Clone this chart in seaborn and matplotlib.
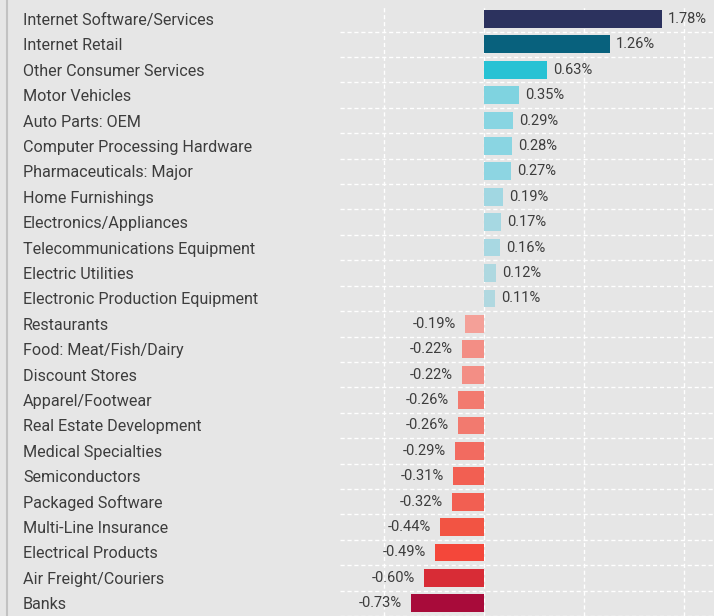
import matplotlib
matplotlib.use("Agg")
import matplotlib.pyplot as plt
import matplotlib.lines as mlines
import seaborn as sns
import pandas as pd
import numpy as np

categories = [
    "Internet Software/Services", "Internet Retail", "Other Consumer Services",
    "Motor Vehicles", "Auto Parts: OEM", "Computer Processing Hardware",
    "Pharmaceuticals: Major", "Home Furnishings", "Electronics/Appliances",
    "Telecommunications Equipment", "Electric Utilities",
    "Electronic Production Equipment", "Restaurants", "Food: Meat/Fish/Dairy",
    "Discount Stores", "Apparel/Footwear", "Real Estate Development",
    "Medical Specialties", "Semiconductors", "Packaged Software",
    "Multi-Line Insurance", "Electrical Products", "Air Freight/Couriers", "Banks",
]
returns = [
    1.78, 1.26, 0.63, 0.35, 0.29, 0.28, 0.27, 0.19, 0.17, 0.16, 0.12, 0.11,
    -0.19, -0.22, -0.22, -0.26, -0.26, -0.29, -0.31, -0.32, -0.44, -0.49,
    -0.60, -0.73,
]
bar_colors = [
    "#2c325e", "#08617d", "#28c2d4", "#7fd3e0", "#88d5e2", "#8ad5e2",
    "#8dd5e2", "#a1d7e2", "#a6d8e2", "#a8d8e2", "#aed8e0", "#b0d8e0",
    "#f4a098", "#f38e85", "#f38e85", "#f27a6f", "#f27a6f", "#f26b60",
    "#f25f52", "#f25f52", "#f25443", "#f4473a", "#d82c36", "#a80b3a",
]

df = pd.DataFrame({"category": categories, "ret": returns})

BG = "#e6e6e6"
TEXT = "#3d3d3d"
FONT = "Roboto"

sns.set_theme(style="white")
plt.rcParams["font.family"] = [FONT, "DejaVu Sans"]

W, H = 714, 616
fig = plt.figure(figsize=(W / 100, H / 100), dpi=100, facecolor=BG)
ax = fig.add_axes([340 / W, 0.0 / H, (W - 340) / W, (616.4 - 6.6) / H])
ax.set_facecolor(BG)

sns.barplot(
    data=df, x="ret", y="category", hue="category",
    palette=dict(zip(categories, bar_colors)), legend=False,
    orient="h", width=0.7, saturation=1, linewidth=0, edgecolor="none", ax=ax,
)

n = len(categories)
ax.set_xlim(-1.44, 2.30)
ax.set_ylim(n - 0.5, -0.5)

# grid: vertical at whole percents, horizontal between rows
ax.set_xticks([-1, 0, 1, 2])
ax.set_yticks(np.arange(n) + 0.5, minor=True)
ax.set_axisbelow(True)
ax.grid(axis="x", which="major", color="white", linestyle=(0, (3, 2)), linewidth=1.0)
ax.grid(axis="y", which="minor", color="white", linestyle=(0, (3, 2)), linewidth=1.0)
ax.grid(axis="y", which="major", visible=False)
ax.tick_params(axis="x", which="both", length=0, labelbottom=False)
ax.tick_params(axis="y", which="both", length=0)
for s in ax.spines.values():
    s.set_visible(False)

# category labels left-aligned near the figure edge
ax.set_yticks(np.arange(n))
ax.set_yticklabels(categories, ha="left", fontsize=11.6, color=TEXT)
ax.tick_params(axis="y", pad=(340 - 23) * 0.72)
ax.set_xlabel("")
ax.set_ylabel("")

# value labels at the bar ends
for i, v in enumerate(returns):
    if v >= 0:
        ax.annotate(f"{v:.2f}%", (v, i), xytext=(4.5, 0), textcoords="offset points",
                    ha="left", va="center", fontsize=10.5, color=TEXT)
    else:
        ax.annotate(f"{v:.2f}%", (v, i), xytext=(-6.5, 0), textcoords="offset points",
                    ha="right", va="center", fontsize=10.5, color=TEXT)

# thin rule along the left edge
fig.add_artist(mlines.Line2D([6.5 / W, 6.5 / W], [0, 1], transform=fig.transFigure,
                             color="#c2c2c2", linewidth=1.5))

fig.savefig("out.png", dpi=100, facecolor=BG)
